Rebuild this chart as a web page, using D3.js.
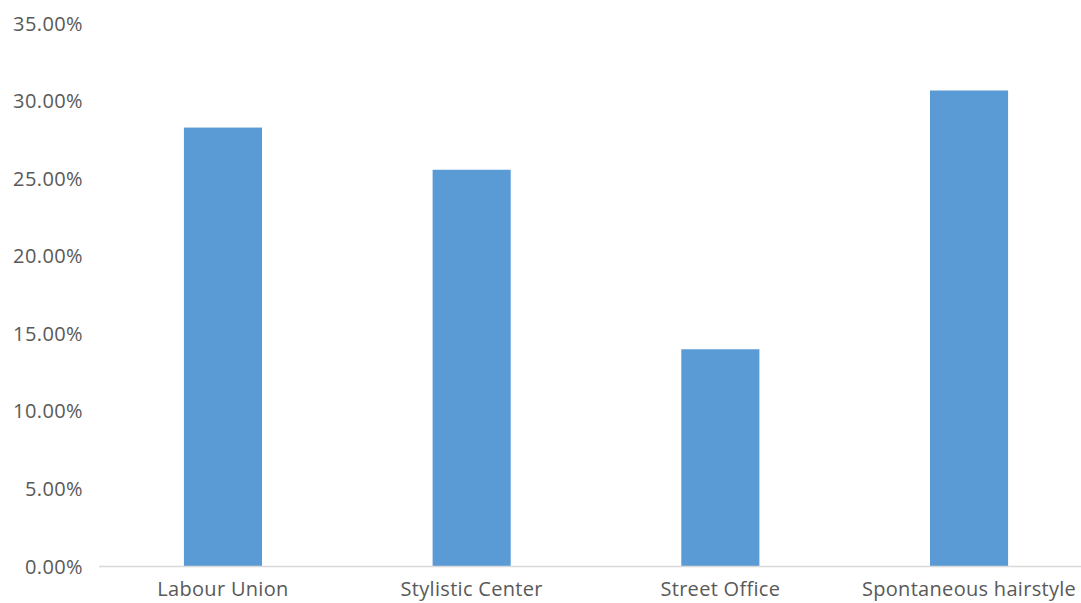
<!DOCTYPE html>
<html>
<head>
<meta charset="utf-8">
<script src="https://cdn.jsdelivr.net/npm/d3@7"></script>
<style>
  html, body { margin: 0; padding: 0; background: #ffffff; }
  svg { display: block; }
  text { font-family: "Open Sans", "Noto Sans", sans-serif; fill: #595959; }
</style>
</head>
<body>
<svg id="chart" width="1081" height="603"></svg>
<script>
// Share of respondents by channel
const categories = ["Labour Union", "Stylistic Center", "Street Office", "Spontaneous hairstyle"];
const shares = [0.2826, 0.2554, 0.1397, 0.3065];
const yTicks = [0, 0.05, 0.10, 0.15, 0.20, 0.25, 0.30, 0.35];

const svg = d3.select("#chart");

const x = d3.scaleBand()
  .domain(categories)
  .range([98.6, 1093.4])
  .paddingInner(0.686)
  .paddingOuter(0.343);

const y = d3.scaleLinear()
  .domain([0, 0.35])
  .range([566, 23]);

const fmt = d3.format(".2%");

// value axis labels (no line, no ticks)
const yAxis = svg.append("g")
  .attr("transform", "translate(83,0)")
  .call(d3.axisLeft(y).tickValues(yTicks).tickFormat(fmt).tickSize(0).tickPadding(0));
yAxis.select(".domain").remove();
yAxis.selectAll("text")
  .attr("font-size", 20)
  .attr("letter-spacing", 0.4)
  .attr("dy", "0.35em")
  .style("font-family", "\"Open Sans\", sans-serif")
  .attr("fill", "#595959");

// bars
svg.append("g")
  .selectAll("rect")
  .data(categories)
  .join("rect")
  .attr("x", d => x(d))
  .attr("width", x.bandwidth())
  .attr("y", (d, i) => y(shares[i]))
  .attr("height", (d, i) => y(0) - y(shares[i]))
  .attr("fill", "#5B9BD5");

// category axis
const xAxis = svg.append("g")
  .attr("transform", `translate(0,${y(0)})`)
  .call(d3.axisBottom(x).tickSize(0).tickPadding(16));
xAxis.select(".domain")
  .attr("stroke", "#D9D9D9")
  .attr("stroke-width", 1.5);
xAxis.selectAll("text")
  .attr("font-size", 20)
  .attr("letter-spacing", 0.3)
  .style("font-family", "\"Open Sans\", sans-serif")
  .attr("fill", "#595959");
</script>
</body>
</html>
